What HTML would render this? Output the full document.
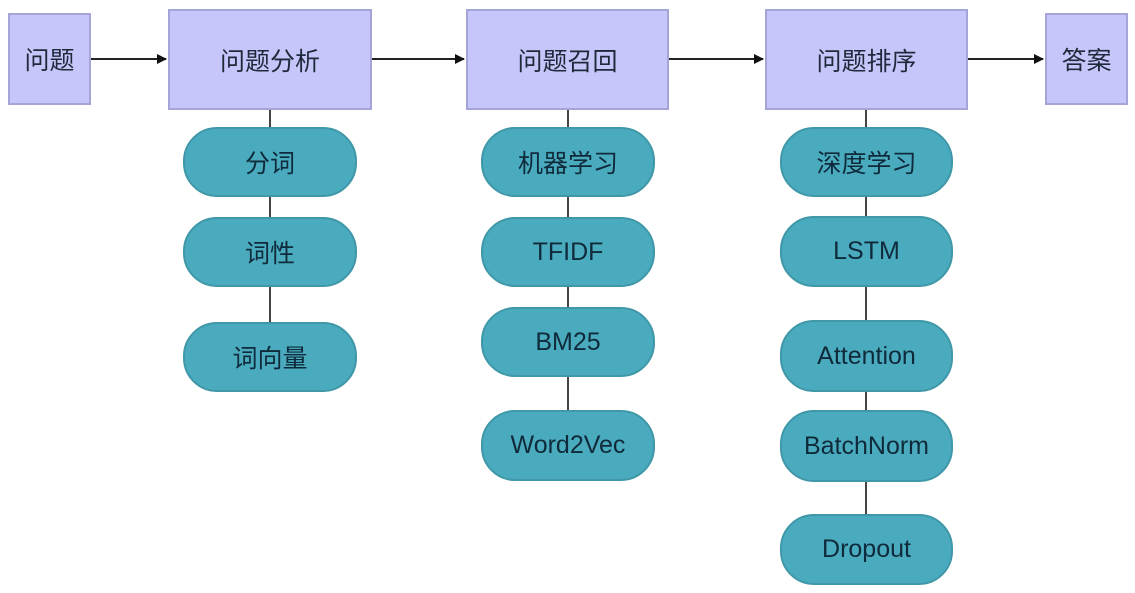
<!DOCTYPE html>
<html><head><meta charset="utf-8"><style>
body{margin:0;width:1135px;height:593px;background:#fff;position:relative;overflow:hidden;font-family:"Liberation Sans","Noto Sans CJK SC",sans-serif;color:#1e2a3a}
.b{position:absolute;background:#c6c6fb;border:2px solid #a4a4d8;box-sizing:border-box;display:flex;align-items:center;justify-content:center;font-size:25px}
.p{position:absolute;background:#4aabbf;border:2px solid #3f97a8;box-sizing:border-box;border-radius:34px;display:flex;align-items:center;justify-content:center;font-size:25px;color:#0f2a3a}
.v{position:absolute;width:2px;background:#444}
</style></head><body>
<svg width="1135" height="593" style="position:absolute;left:0;top:0">
<defs><marker id="a" markerWidth="10" markerHeight="10" refX="9" refY="5" orient="auto" markerUnits="userSpaceOnUse"><path d="M0,0 L10,5 L0,10 z" fill="#111"/></marker></defs>
<g stroke="#222" stroke-width="2">
<line x1="90" y1="59" x2="166" y2="59" marker-end="url(#a)"/>
<line x1="371" y1="59" x2="464" y2="59" marker-end="url(#a)"/>
<line x1="668" y1="59" x2="763" y2="59" marker-end="url(#a)"/>
<line x1="967" y1="59" x2="1043" y2="59" marker-end="url(#a)"/>
</g>
<g stroke="#444" stroke-width="2">
<line x1="270" y1="109" x2="270" y2="322"/>
<line x1="568" y1="109" x2="568" y2="410"/>
<line x1="866" y1="109" x2="866" y2="514"/>
</g>
</svg>
<div class="b" style="left:8px;top:13px;width:83px;height:92px">问题</div>
<div class="b" style="left:168px;top:9px;width:204px;height:101px">问题分析</div>
<div class="b" style="left:466px;top:9px;width:203px;height:101px">问题召回</div>
<div class="b" style="left:765px;top:9px;width:203px;height:101px">问题排序</div>
<div class="b" style="left:1045px;top:13px;width:83px;height:92px">答案</div>

<div class="p" style="left:183px;top:127px;width:174px;height:70px">分词</div>
<div class="p" style="left:183px;top:217px;width:174px;height:70px">词性</div>
<div class="p" style="left:183px;top:322px;width:174px;height:70px">词向量</div>

<div class="p" style="left:481px;top:127px;width:174px;height:70px">机器学习</div>
<div class="p" style="left:481px;top:217px;width:174px;height:70px">TFIDF</div>
<div class="p" style="left:481px;top:307px;width:174px;height:70px">BM25</div>
<div class="p" style="left:481px;top:410px;width:174px;height:71px">Word2Vec</div>

<div class="p" style="left:780px;top:127px;width:173px;height:70px">深度学习</div>
<div class="p" style="left:780px;top:216px;width:173px;height:71px">LSTM</div>
<div class="p" style="left:780px;top:320px;width:173px;height:72px">Attention</div>
<div class="p" style="left:780px;top:410px;width:173px;height:72px">BatchNorm</div>
<div class="p" style="left:780px;top:514px;width:173px;height:71px">Dropout</div>
</body></html>
